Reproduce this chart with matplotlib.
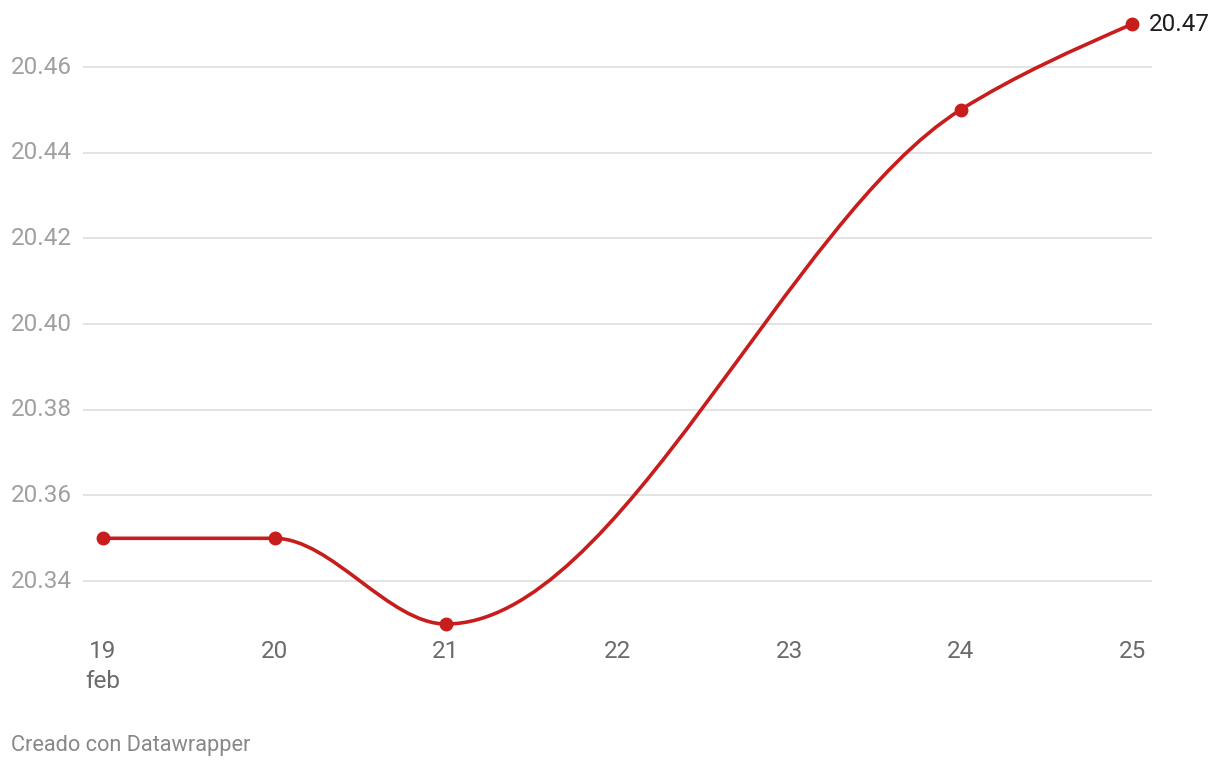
import numpy as np
import matplotlib.pyplot as plt
from matplotlib.path import Path
from matplotlib.patches import PathPatch
from matplotlib.transforms import blended_transform_factory

plt.rcParams['font.family'] = ['Roboto', 'DejaVu Sans']

# data: days of February and value
dias = [19, 20, 21, 24, 25]
valores = [20.35, 20.35, 20.33, 20.45, 20.47]
tickX = [19, 20, 21, 22, 23, 24, 25]
tickY = [20.34, 20.36, 20.38, 20.40, 20.42, 20.44, 20.46]

colorLinea = '#c71e1d'


def monotone_path(x, y):
    # d3 curveMonotoneX as cubic bezier segments
    x = np.asarray(x, float)
    y = np.asarray(y, float)
    n = len(x)
    h = np.diff(x)
    s = np.diff(y) / h
    t = np.zeros(n)
    for i in range(1, n - 1):
        p = (s[i - 1] * h[i] + s[i] * h[i - 1]) / (h[i - 1] + h[i])
        t[i] = (np.sign(s[i - 1]) + np.sign(s[i])) * min(abs(s[i - 1]), abs(s[i]), 0.5 * abs(p))
    t[0] = (3 * s[0] - t[1]) / 2
    t[-1] = (3 * s[-1] - t[-2]) / 2
    verts = [(x[0], y[0])]
    codes = [Path.MOVETO]
    for i in range(n - 1):
        dx = h[i] / 3
        verts += [(x[i] + dx, y[i] + dx * t[i]),
                  (x[i + 1] - dx, y[i + 1] - dx * t[i + 1]),
                  (x[i + 1], y[i + 1])]
        codes += [Path.CURVE4] * 3
    return Path(verts, codes)


W, H = 1220, 770
fig = plt.figure(figsize=(W / 100, H / 100), dpi=100)
ax = fig.add_axes([83 / W, (H - 630) / H, (1152 - 83) / W, (630 - 15) / H])

pxDia = (1132 - 103) / 6.0
ax.set_xlim(19 - 20 / pxDia, 25 + 20 / pxDia)
pxUnidad = 85.67 / 0.02
ax.set_ylim(20.33 - 6 / pxUnidad, 20.46 + 52 / pxUnidad)

for v in tickY:
    ax.axhline(v, color='#e3e3e3', lw=1.4, zorder=0)

ax.add_patch(PathPatch(monotone_path(dias, valores), fill=False,
                       edgecolor=colorLinea, lw=2.6, capstyle='round',
                       zorder=3, clip_on=False))
ax.plot(dias, valores, 'o', color=colorLinea, ms=9, zorder=4, clip_on=False)

for s in ax.spines.values():
    s.set_visible(False)
ax.set_xticks([])
ax.set_yticks([])

transY = blended_transform_factory(fig.transFigure, ax.transData)
for v in tickY:
    fig.text(11 / W, v, '{:.2f}'.format(v), transform=transY, ha='left',
             va='center', fontsize=17.5, color='#a0a0a0')

transX = blended_transform_factory(ax.transData, fig.transFigure)
for d in tickX:
    fig.text(d, (H - 652) / H, str(d), transform=transX, ha='center',
             va='center', fontsize=17.5, color='#6b6b6b')
fig.text(19, (H - 681) / H, 'feb', transform=transX, ha='center',
         va='center', fontsize=17.5, color='#6b6b6b')

ax.annotate('{:.2f}'.format(valores[-1]), (dias[-1], valores[-1]),
            xytext=(17, 0), textcoords='offset pixels', ha='left',
            va='center', fontsize=17.5, color='#1d1d1d')

fig.text(11 / W, (H - 746) / H, 'Creado con Datawrapper', ha='left',
         va='center', fontsize=15.7, color='#888888')

fig.savefig('out.png', dpi=100)
